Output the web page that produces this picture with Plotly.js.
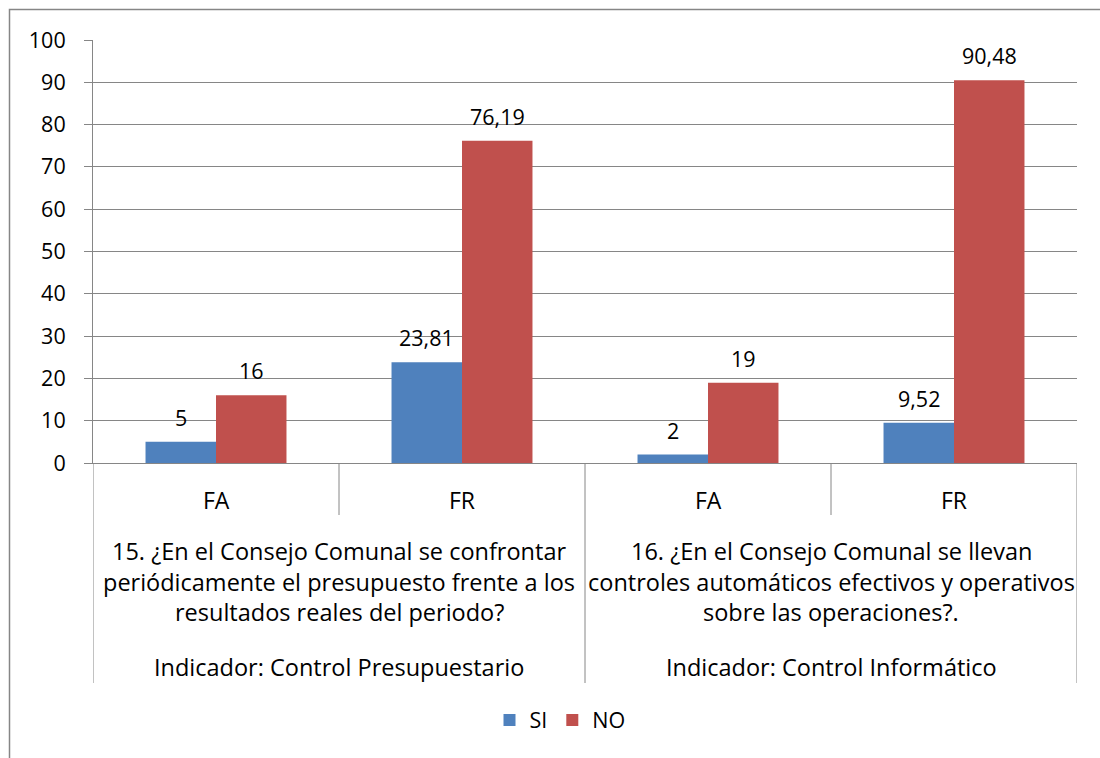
<!DOCTYPE html>
<html>
<head>
<meta charset="utf-8">
<script src="https://cdn.plot.ly/plotly-3.0.1.min.js"></script>
<style>html,body{margin:0;padding:0;background:#fff;}#chart{width:1100px;height:758px;}</style>
</head>
<body>
<div id="chart"></div>
<script>
// ---- data ----
const categories = ['FA', 'FR', 'FA', 'FR'];
const seriesNames = ['SI', 'NO'];
const siValues = [5, 23.81, 2, 9.52];
const noValues = [16, 76.19, 19, 90.48];
const questionLines = [
  ['15. ¿En el Consejo Comunal se confrontar', 'periódicamente el presupuesto frente a los', 'resultados reales del periodo?'],
  ['16. ¿En el Consejo Comunal se llevan', 'controles automáticos efectivos y operativos', 'sobre las operaciones?.']
];
const indicators = ['Indicador: Control Presupuestario', 'Indicador: Control Informático'];

// ---- layout constants ----
const FONT = '"Open Sans", Lato, sans-serif';
const GRAY = '#868686';
const L = 93, R = 23, T = 40, B = 295;
const W = 1100 - L - R, H = 758 - T - B;
const bargap = 0.427;
const half = (1 - bargap) / 4;
const xs = categories.map((_, i) => i);
const colors = ['#4F81BD', '#C0504D'];
const series = [siValues, noValues];
const fmt = v => String(v).replace('.', ',');
const px2x = px => (px - L) / W;
const px2y = py => (T + H - py) / H;
const TXT = 23.5;

const traces = series.map((vals, s) => ({
  type: 'bar', name: seriesNames[s], x: xs, y: vals,
  marker: {color: colors[s], line: {width: 0}},
  hoverinfo: 'skip'
}));

const annotations = [];
series.forEach((vals, s) => {
  const off = s === 0 ? -half : half;
  vals.forEach((v, i) => annotations.push({
    x: xs[i] + off, y: v, xref: 'x', yref: 'y', text: fmt(v), showarrow: false,
    yanchor: 'bottom', yshift: 8, font: {family: FONT, size: 21.5, color: '#000'}
  }));
});
categories.forEach((c, i) => annotations.push({
  x: xs[i], y: 0, xref: 'x', yref: 'paper', yshift: -37, yanchor: 'middle',
  text: c, showarrow: false, font: {family: FONT, size: 23, color: '#000'}
}));
questionLines.forEach((lines, g) => {
  const cx = 2 * g + 0.5;
  lines.forEach((t, j) => annotations.push({
    x: cx, y: 0, xref: 'x', yref: 'paper', yshift: -(88 + 30.5 * j), yanchor: 'middle',
    text: t, showarrow: false, font: {family: FONT, size: TXT, color: '#000'}
  }));
  annotations.push({
    x: cx, y: 0, xref: 'x', yref: 'paper', yshift: -204, yanchor: 'middle',
    text: indicators[g], showarrow: false, font: {family: FONT, size: TXT, color: '#000'}
  });
});

const shapes = [];
for (let i = 0; i <= categories.length; i++) {
  const long = i % 2 === 0;
  shapes.push({
    type: 'line', xref: 'x', yref: 'paper', x0: i - 0.5, x1: i - 0.5,
    y0: 0, y1: long ? px2y(683) : px2y(515),
    line: {color: GRAY, width: 1}
  });
}
shapes.push({
  type: 'path', xref: 'paper', yref: 'paper',
  path: `M ${px2x(9.5)} ${px2y(780)} L ${px2x(9.5)} ${px2y(9.5)} L ${px2x(1120)} ${px2y(9.5)}`,
  line: {color: GRAY, width: 1.5}
});

const layout = {
  width: 1100, height: 758,
  margin: {l: L, r: R, t: T, b: B, pad: 0},
  paper_bgcolor: '#fff', plot_bgcolor: '#fff',
  font: {family: FONT, color: '#000'},
  separators: ',.',
  barmode: 'group', bargap: bargap, bargroupgap: 0,
  showlegend: true,
  legend: {
    orientation: 'h', x: px2x(560), xanchor: 'center', y: px2y(720), yanchor: 'middle',
    font: {family: FONT, size: 21.5, color: '#000'}, itemclick: false, itemwidth: 30,
    traceorder: 'normal'
  },
  xaxis: {
    range: [-0.5, categories.length - 0.5], showticklabels: false, ticks: '',
    showgrid: false, zeroline: false, showline: true, linecolor: GRAY, linewidth: 1,
    fixedrange: true
  },
  yaxis: {
    range: [0, 100], dtick: 10, showgrid: true, gridcolor: GRAY, gridwidth: 1,
    zeroline: false, showline: true, linecolor: GRAY, linewidth: 1,
    ticks: 'outside', ticklen: 8, tickcolor: GRAY, tickwidth: 1,
    ticklabelstandoff: 14,
    tickfont: {family: FONT, size: 21.5, color: '#000'}, fixedrange: true
  },
  annotations: annotations,
  shapes: shapes
};

Plotly.newPlot('chart', traces, layout, {displayModeBar: false, staticPlot: true});
</script>
</body>
</html>
